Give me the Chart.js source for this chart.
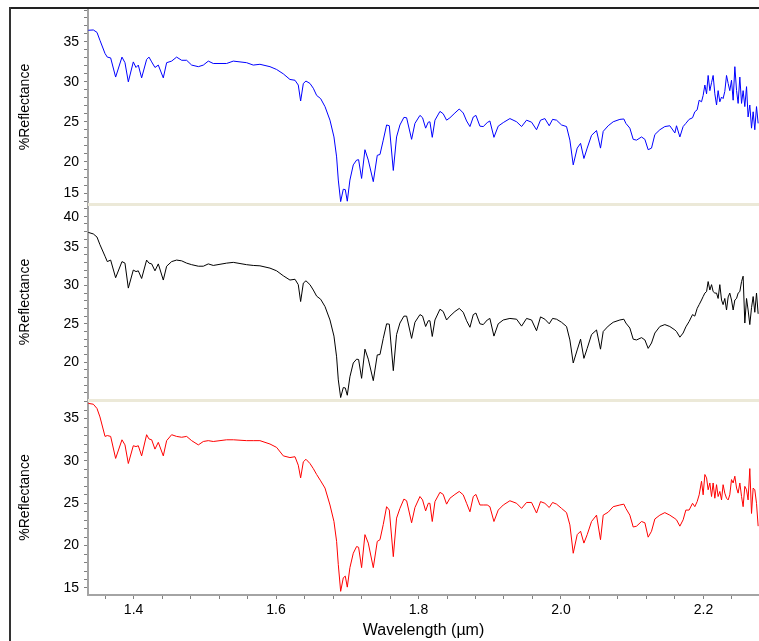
<!DOCTYPE html>
<html>
<head>
<meta charset="utf-8">
<title>Reflectance spectra</title>
<script src="https://cdn.jsdelivr.net/npm/chart.js"></script>
<style>
    body { margin: 0; background: #fff; }
    #wrap { position: relative; width: 759px; height: 641px; overflow: hidden; background: #fff; }
    #wrap canvas { position: absolute; left: 11px; }
    .frame-top { position: absolute; left: 9px; top: 7px; width: 750px; height: 2px; background: #222; }
    .frame-left { position: absolute; left: 9px; top: 7px; width: 2px; height: 634px; background: #333; }
    .sep { position: absolute; left: 88px; width: 671px; height: 3px; background: #ece9d8; }
</style>
</head>
<body>
<div id="wrap">
    <div class="frame-top"></div>
    <div class="frame-left"></div>
    <canvas id="topChart" width="748" height="214" style="top:0px"></canvas>
    <canvas id="midChart" width="748" height="216" style="top:194px"></canvas>
    <canvas id="botChart" width="748" height="251" style="top:390px"></canvas>
    <div class="sep" style="top:203px"></div>
    <div class="sep" style="top:399px"></div>
</div>
<script>
// wavelength in micrometres, shared by the three spectra
const wavelength = [
    1.3365, 1.3435, 1.3486, 1.3528, 1.3599, 1.3631, 1.3678, 1.3748, 1.3837, 1.3879, 1.3926, 1.3996, 1.4034, 1.4066, 1.4113, 1.4183, 1.4216, 1.4254,
    1.4300, 1.4347, 1.4417, 1.4464, 1.4534, 1.4604, 1.4675, 1.4745, 1.4815, 1.4909, 1.4979, 1.5049, 1.5119, 1.5306, 1.5400, 1.5587, 1.5680,
    1.5774, 1.5915, 1.6008, 1.6102, 1.6195, 1.6266, 1.6312, 1.6345, 1.6383, 1.6420, 1.6476, 1.6523, 1.6570, 1.6626, 1.6687, 1.6757, 1.6813, 1.6850,
    1.6874, 1.6907, 1.6944, 1.6972, 1.7000, 1.7037, 1.7084, 1.7131, 1.7159, 1.7201, 1.7248, 1.7295, 1.7365, 1.7421, 1.7459, 1.7505, 1.7552, 1.7590,
    1.7646, 1.7692, 1.7739, 1.7795, 1.7833, 1.7903, 1.7950, 1.8020, 1.8057, 1.8100, 1.8137, 1.8160, 1.8193, 1.8231, 1.8301, 1.8347, 1.8394, 1.8441,
    1.8511, 1.8572, 1.8628, 1.8675, 1.8722, 1.8769, 1.8806, 1.8862, 1.8909, 1.8965, 1.9002, 1.9059, 1.9119, 1.9190, 1.9283,
    1.9377, 1.9447, 1.9517, 1.9587, 1.9657, 1.9713, 1.9774, 1.9835, 1.9882, 1.9938, 2.0008, 2.0078, 2.0125, 2.0172, 2.0228, 2.0275, 2.0322, 2.0368,
    2.0429, 2.0499, 2.0555, 2.0593, 2.0663, 2.0733, 2.0827, 2.0883, 2.0911, 2.0967, 2.1014, 2.1061, 2.1131, 2.1178, 2.1224, 2.1271, 2.1318, 2.1388,
    2.1458, 2.1528, 2.1599, 2.1622,
    2.1669, 2.1715, 2.1753, 2.1799, 2.1847, 2.1879, 2.1912, 2.1940, 2.1973, 2.1996, 2.2020, 2.2044, 2.2066, 2.2090, 2.2114, 2.2136, 2.2160, 2.2184,
    2.2206, 2.2230, 2.2254, 2.2276, 2.2300, 2.2324, 2.2347, 2.2370, 2.2394, 2.2417, 2.2441, 2.2465, 2.2487, 2.2511, 2.2535, 2.2557, 2.2581, 2.2605,
    2.2627, 2.2651, 2.2675, 2.2698, 2.2721, 2.2745, 2.2768
];

// % reflectance, top panel (blue)
const blueSpectrum = [
    36.46, 36.5, 36.2, 35.2, 33.55, 33.1, 33.0, 30.6, 33.1, 32.4, 30.0, 32.5, 31.8, 32.1, 30.5, 32.8, 33.1, 32.5,
    31.8, 32.1, 30.5, 32.4, 32.6, 33.1, 32.7, 32.7, 32.1, 31.9, 32.1, 32.6, 32.3, 32.3, 32.6, 32.4, 32.1,
    32.2, 31.9, 31.55, 31.0, 30.3, 30.2, 29.6, 27.6, 29.8, 30.1, 29.8, 29.2, 28.3, 27.9, 26.9, 25.2, 23.1, 20.6,
    17.7, 15.0, 16.55, 16.5, 15.05, 17.7, 19.6, 20.2, 20.25, 17.9, 21.5, 20.2, 17.5, 20.8, 20.9, 22.7, 24.6, 24.5,
    18.9, 23.1, 24.6, 25.55, 25.5, 22.8, 24.8, 25.8, 25.5, 24.2, 24.95, 25.0, 23.05, 25.2, 26.3, 26.0, 25.2, 25.5,
    26.1, 26.6, 26.1, 25.1, 24.4, 25.6, 25.8, 24.45, 24.4, 24.9, 25.1, 23.05, 24.45, 24.9, 25.4,
    25.0, 24.4, 25.2, 24.95, 24.0, 25.2, 25.4, 24.5, 25.3, 25.2, 24.6, 24.4, 22.7, 19.6, 21.7, 22.3, 20.4, 21.7,
    23.3, 23.9, 21.7, 23.8, 24.5, 25.0, 25.3, 25.35, 24.8, 24.2, 22.8, 22.7, 23.1, 22.8, 21.5, 21.7, 23.4, 24.0,
    24.4, 24.5, 23.6, 24.5,
    23.1, 24.4, 24.8, 25.3, 25.5, 26.25, 26.5, 27.7, 27.5, 28.3, 29.6, 28.5, 30.8, 28.9, 29.9, 30.8, 28.5, 27.1,
    28.9, 27.5, 28.1, 27.9, 28.8, 30.8, 29.8, 28.9, 30.2, 27.7, 31.9, 28.9, 27.3, 30.6, 27.3, 28.9, 26.9, 29.4,
    25.6, 27.1, 24.2, 26.25, 24.0, 26.9, 24.8
];

// % reflectance, middle panel (black)
const blackSpectrum = [
    36.9, 36.7, 36.3, 35.3, 33.8, 33.1, 33.3, 31.0, 33.1, 32.9, 29.65, 32.0, 31.8, 31.9, 30.9, 33.3, 32.9, 32.8,
    31.9, 32.8, 30.7, 32.5, 33.1, 33.3, 33.2, 32.9, 32.7, 32.5, 32.5, 32.8, 32.6, 32.9, 33.0, 32.7, 32.6,
    32.55, 32.25, 31.9, 31.25, 30.7, 30.8, 30.1, 27.9, 30.3, 30.6, 30.1, 29.4, 28.6, 28.2, 27.25, 25.5, 23.4, 20.7,
    17.7, 15.4, 16.7, 16.65, 15.7, 18.1, 19.9, 20.4, 20.35, 17.9, 21.7, 20.4, 17.6, 20.95, 21.0, 23.1, 25.0, 24.95,
    18.9, 23.6, 25.1, 26.0, 26.0, 23.1, 25.2, 26.2, 26.0, 24.65, 25.4, 25.4, 23.35, 25.5, 26.9, 26.6, 25.5, 26.0,
    26.6, 27.0, 26.5, 25.4, 24.55, 26.2, 26.4, 25.0, 24.9, 25.5, 25.7, 23.4, 25.0, 25.5, 25.7,
    25.6, 24.7, 25.7, 25.5, 24.1, 25.9, 25.6, 25.0, 25.7, 25.6, 25.2, 24.65, 22.9, 19.9, 21.6, 23.0, 20.5, 21.8,
    23.6, 24.2, 21.7, 24.0, 24.7, 25.2, 25.5, 25.6, 25.1, 24.45, 23.0, 22.9, 23.2, 22.9, 21.8, 22.5, 23.8, 24.65,
    24.9, 24.65, 24.2, 24.0,
    23.26, 23.8, 24.6, 25.3, 26.2, 26.0, 27.0, 27.5, 28.1, 28.55, 29.0, 29.2, 30.5, 29.4, 30.1, 29.2, 29.0, 29.0,
    28.3, 30.1, 28.1, 27.5, 28.3, 26.8, 28.5, 29.0, 28.1, 26.8, 28.1, 28.3, 29.0, 29.2, 30.5, 31.2, 25.1, 28.3,
    26.8, 24.9, 27.1, 28.55, 26.5, 29.0, 26.3
];

// % reflectance, bottom panel (red)
const redSpectrum = [
    36.8, 36.7, 36.2, 35.2, 32.9, 33.0, 32.9, 30.3, 32.5, 31.9, 29.7, 31.8, 31.7, 31.8, 30.6, 33.1, 32.6, 32.5,
    31.4, 32.2, 30.6, 32.4, 33.1, 32.9, 32.8, 32.9, 32.4, 31.9, 32.3, 32.4, 32.3, 32.5, 32.5, 32.4, 32.4,
    32.4, 32.0, 31.6, 30.6, 30.4, 30.5, 29.5, 28.0, 29.9, 30.2, 29.7, 29.1, 28.4, 27.65, 26.8, 24.8, 22.85, 20.5,
    17.75, 14.6, 16.2, 16.4, 15.1, 17.4, 19.1, 19.9, 19.8, 17.4, 21.3, 20.3, 17.4, 20.5, 20.7, 22.5, 24.6, 24.2,
    18.7, 23.25, 24.4, 25.5, 25.3, 22.7, 24.5, 25.8, 25.4, 24.1, 25.0, 25.0, 22.85, 25.2, 26.3, 26.05, 24.9, 25.6,
    26.05, 26.4, 26.0, 25.0, 24.0, 25.8, 26.05, 24.8, 24.8, 24.8, 24.6, 22.85, 24.2, 24.8, 25.3,
    25.0, 24.4, 25.1, 25.1, 23.85, 25.2, 25.0, 24.5, 25.1, 24.9, 24.4, 23.9, 22.45, 19.1, 21.3, 21.7, 20.3, 21.3,
    22.85, 23.6, 20.7, 23.6, 23.95, 24.6, 24.8, 24.9, 24.4, 23.6, 22.2, 22.3, 22.85, 22.7, 21.0, 21.7, 23.15, 23.6,
    23.9, 23.6, 23.2, 23.05,
    22.3, 23.05, 24.2, 24.2, 25.0, 24.6, 25.2, 26.0, 27.6, 26.0, 28.4, 28.0, 26.6, 27.4, 25.8, 27.4, 25.6, 27.2,
    25.8, 26.4, 25.4, 27.2, 26.2, 25.6, 25.4, 26.0, 27.8, 27.4, 28.2, 26.8, 26.2, 27.4, 25.8, 24.6, 27.0, 26.6,
    25.4, 29.1, 23.8, 26.8, 26.6, 25.0, 22.3
];

// axis limits
const xRange = [1.336, 2.278];
const topRange = [14.7, 39.0];
const midRange = [15.08, 40.6];
const botRange = [14.17, 37.2];

const fontFamily = "'Liberation Sans', Arial, sans-serif";

function yLabel(value, shift) {
    const v = Math.round(value);
    if (Math.abs(value - v) > 1e-6 || v % 5 !== 0) return '';
    // labels that sit on the panel edge are nudged inside
    if (shift && shift[v] === 'up') return [String(v), ''];
    if (shift && shift[v] === 'down') return ['', String(v)];
    return String(v);
}

function makePanel(id, values, color, yRange, showX, shift) {
    const points = wavelength.map((w, i) => ({ x: w, y: values[i] }));
    return new Chart(document.getElementById(id), {
        type: 'line',
        data: {
            datasets: [{
                data: points,
                borderColor: color,
                borderWidth: 1,
                pointRadius: 0,
                tension: 0,
                fill: false
            }]
        },
        options: {
            responsive: false,
            animation: false,
            devicePixelRatio: 1,
            layout: { padding: { top: 10, bottom: showX ? 0 : 10, left: 0, right: 0 } },
            plugins: { legend: { display: false }, tooltip: { enabled: false } },
            scales: {
                x: {
                    type: 'linear',
                    display: showX,
                    min: xRange[0],
                    max: xRange[1],
                    border: { color: '#a4a4a4', width: 2 },
                    grid: { drawOnChartArea: false, tickLength: 4, tickColor: '#808080' },
                    ticks: {
                        stepSize: 0.04,
                        includeBounds: false,
                        autoSkip: false,
                        maxRotation: 0,
                        padding: 3,
                        color: '#000',
                        font: { family: fontFamily, size: 14 },
                        callback: function(value) {
                            const k = value * 5;
                            return Math.abs(k - Math.round(k)) < 1e-6 ? value.toFixed(1) : '';
                        }
                    },
                    title: {
                        display: true,
                        text: 'Wavelength (µm)',
                        color: '#000',
                        font: { family: fontFamily, size: 16 },
                        padding: { top: 0, bottom: 1 }
                    },
                    afterFit: function(scale) {
                        if (!showX) return;
                        scale.height = 46;
                        scale.paddingLeft = 0;
                        scale.paddingRight = 0;
                    }
                },
                y: {
                    min: yRange[0],
                    max: yRange[1],
                    border: { color: '#a4a4a4', width: 2 },
                    grid: { drawOnChartArea: false, tickLength: 4, tickColor: '#808080' },
                    ticks: {
                        stepSize: 1,
                        includeBounds: false,
                        autoSkip: false,
                        padding: 5,
                        color: '#000',
                        font: { family: fontFamily, size: 14 },
                        callback: function(value) { return yLabel(value, shift); }
                    },
                    title: {
                        display: true,
                        text: '%Reflectance',
                        color: '#000',
                        font: { family: fontFamily, size: 14 },
                        padding: { top: 6, bottom: 0 }
                    },
                    afterFit: function(scale) {
                        scale.width = 77;
                        scale.paddingTop = 0;
                        scale.paddingBottom = 0;
                    }
                }
            }
        }
    });
}

makePanel('topChart', blueSpectrum, '#0000ff', topRange, false, { 15: 'up' });
makePanel('midChart', blackSpectrum, '#000000', midRange, false, { 40: 'down' });
makePanel('botChart', redSpectrum, '#ff0000', botRange, true, null);
</script>
</body>
</html>
